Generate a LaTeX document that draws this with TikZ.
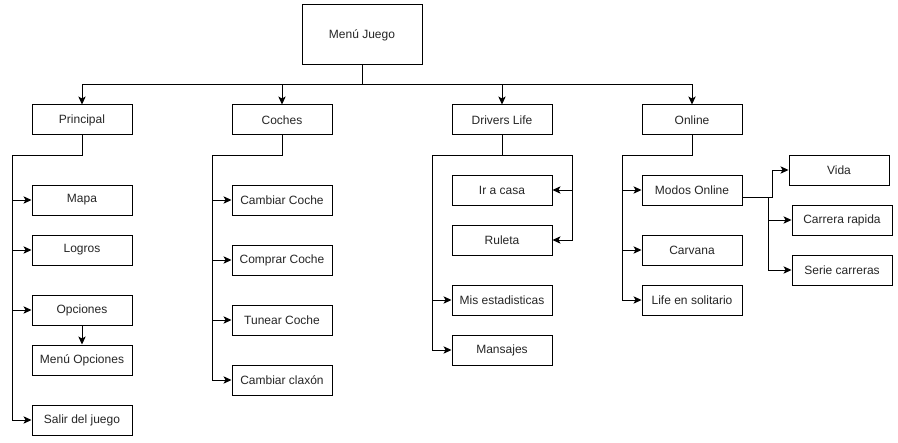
\documentclass[tikz,border=0pt]{standalone}
\usepackage{fontspec}
\setmainfont{Liberation Sans}
\usetikzlibrary{arrows.meta}
\begin{document}
\begin{tikzpicture}[x=0.75pt,y=-0.75pt,
  box/.style={draw, line width=0.75pt, inner sep=0pt, minimum width=75pt, minimum height=22.5pt, font=\fontsize{9}{11}\selectfont, text=black!85},
  conn/.style={draw, line width=0.75pt, -{Stealth[length=6pt,width=5.5pt,inset=1.5pt]}},
]
\useasboundingbox[fill=white] (0,0) rectangle (898,442);
% root
\node[box, minimum width=90pt, minimum height=45pt] (mj) at (362,35) {Menú Juego};
% level 1
\node[box] (p) at (82,120) {Principal};
\node[box] (c) at (282,120) {Coches};
\node[box] (d) at (502,120) {Drivers Life};
\node[box] (o) at (692,120) {Online};
% Principal children
\node[box] (mapa) at (82,200) {Mapa};
\node[box] (logros) at (82,250) {Logros};
\node[box] (opc) at (82,310) {Opciones};
\node[box] (mopc) at (82,360) {Menú Opciones};
\node[box] (salir) at (82,420) {Salir del juego};
% Coches children
\node[box] (cc) at (282,200) {Cambiar Coche};
\node[box] (cpc) at (282,260) {Comprar Coche};
\node[box] (tc) at (282,320) {Tunear Coche};
\node[box] (cl) at (282,380) {Cambiar claxón};
% Drivers Life children
\node[box] (ira) at (502,190) {Ir a casa};
\node[box] (rul) at (502,240) {Ruleta};
\node[box] (est) at (502,300) {Mis estadisticas};
\node[box] (men) at (502,350) {Mansajes};
% Online children
\node[box] (modos) at (692,190) {Modos Online};
\node[box] (carv) at (692,250) {Carvana};
\node[box] (life) at (692,300) {Life en solitario};
\node[box] (vida) at (839,170) {Vida};
\node[box] (cr) at (842,220) {Carrera rapida};
\node[box] (sc) at (842,270) {Serie carreras};
% bus coordinates
\coordinate (bus) at (362,85);
\coordinate (pl) at (12,155);
\coordinate (cl0) at (212,155);
\coordinate (dl) at (432,155);
\coordinate (dr) at (572,155);
\coordinate (ol) at (622,155);
% root connectors
\path[conn] (mj.south) |- (bus) -| (p.north);
\path[conn] (mj.south) |- (bus) -| (c.north);
\path[conn] (mj.south) |- (bus) -| (d.north);
\path[conn] (mj.south) |- (bus) -| (o.north);
% Principal
\path[conn] (p.south) |- (pl) |- (mapa.west);
\path[conn] (p.south) |- (pl) |- (logros.west);
\path[conn] (p.south) |- (pl) |- (opc.west);
\path[conn] (p.south) |- (pl) |- (salir.west);
\path[conn] (opc.south) -- (mopc.north);
% Coches
\path[conn] (c.south) |- (cl0) |- (cc.west);
\path[conn] (c.south) |- (cl0) |- (cpc.west);
\path[conn] (c.south) |- (cl0) |- (tc.west);
\path[conn] (c.south) |- (cl0) |- (cl.west);
% Drivers Life
\path[conn] (d.south) |- (dr) |- (ira.east);
\path[conn] (d.south) |- (dr) |- (rul.east);
\path[conn] (d.south) |- (dl) |- (est.west);
\path[conn] (d.south) |- (dl) |- (men.west);
% Online
\path[conn] (o.south) |- (ol) |- (modos.west);
\path[conn] (o.south) |- (ol) |- (carv.west);
\path[conn] (o.south) |- (ol) |- (life.west);
% Modos Online
\path[conn] ([yshift=-5.6pt]modos.east) -- ++(30,0) |- (vida.west);
\path[conn] ([yshift=-5.6pt]modos.east) -- ++(25.5,0) |- (cr.west);
\path[conn] ([yshift=-5.6pt]modos.east) -- ++(25.5,0) |- (sc.west);
\end{tikzpicture}
\end{document}
